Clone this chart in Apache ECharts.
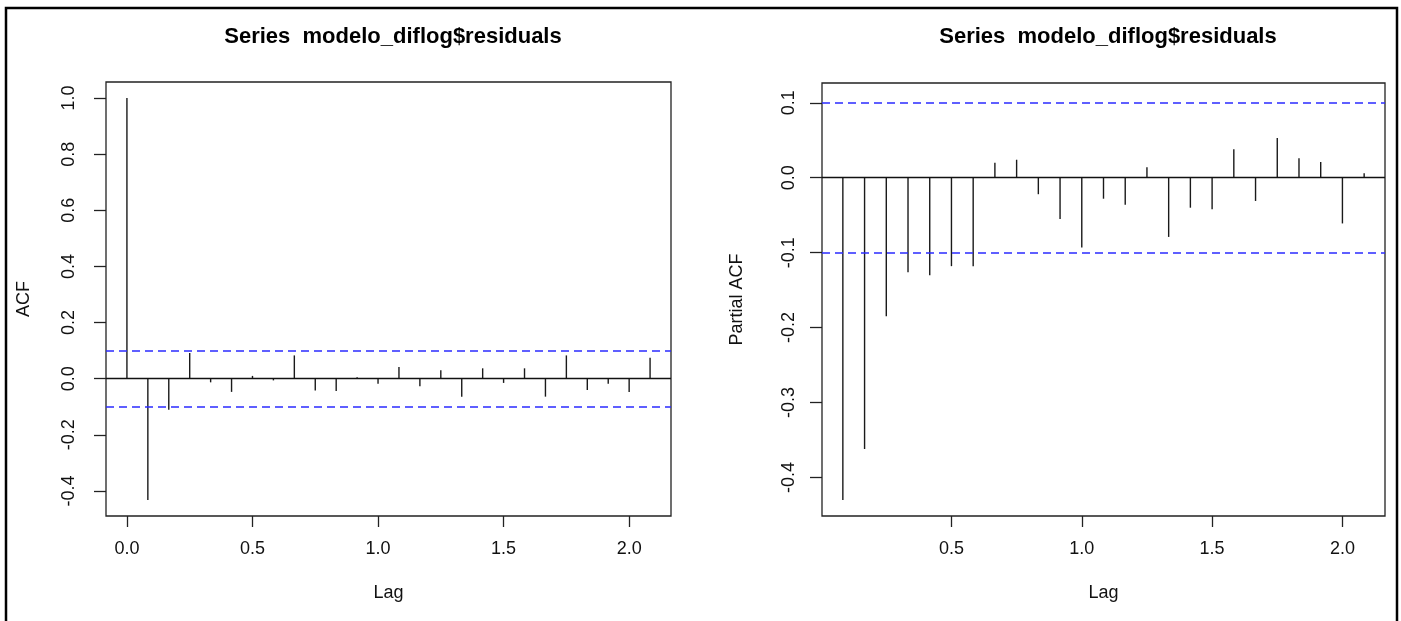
<!DOCTYPE html>
<html>
<head>
<meta charset="utf-8">
<script src="https://cdn.jsdelivr.net/npm/echarts@6/dist/echarts.min.js"></script>
<style>
  html, body { margin: 0; padding: 0; background: #fff; }
  #chart { width: 1401px; height: 621px; }
</style>
</head>
<body>
<div id="chart"></div>
<script>
const title = "Series  modelo_diflog$residuals";
const frequency = 12;
const ciLimit = 0.105;

// ACF, lags 0..25 (in units of 1/12)
const acfValues = [1.0, -0.432, -0.111, 0.092, -0.013, -0.047, 0.010, -0.006, 0.083, -0.042,
  -0.044, 0.005, -0.018, 0.042, -0.027, 0.030, -0.064, 0.037, -0.015, 0.037,
  -0.064, 0.083, -0.040, -0.018, -0.047, 0.075];

// PACF, lags 1..25
const pacfValues = [-0.430, -0.362, -0.185, -0.126, -0.130, -0.118, -0.118, 0.020, 0.024, -0.022,
  -0.055, -0.093, -0.028, -0.036, 0.014, -0.079, -0.040, -0.042, 0.038, -0.031,
  0.053, 0.026, 0.021, -0.061, 0.006];

const acfYTicks = [-0.4, -0.2, 0.0, 0.2, 0.4, 0.6, 0.8, 1.0];
const acfXTicks = [0.0, 0.5, 1.0, 1.5, 2.0];
const pacfYTicks = [-0.4, -0.3, -0.2, -0.1, 0.0, 0.1];
const pacfXTicks = [0.5, 1.0, 1.5, 2.0];

const acfData = acfValues.map((v, i) => [i / frequency, v]);
const pacfData = pacfValues.map((v, i) => [(i + 1) / frequency, v]);

// R-style 4% range padding
function padded(lo, hi) {
  const d = (hi - lo) * 0.04;
  return [lo - d, hi + d];
}
const acfX = padded(0, 25 / frequency);
const acfY = padded(Math.min(-ciLimit, ...acfValues), Math.max(ciLimit, ...acfValues));
const pacfX = padded(1 / frequency, 25 / frequency);
const pacfY = padded(Math.min(-ciLimit, ...pacfValues), Math.max(ciLimit, ...pacfValues));

const font = "'Liberation Sans', Arial, sans-serif";
const fmt = v => v.toFixed(1);

function xAxis(idx, range, ticks) {
  return {
    type: "value", gridIndex: idx, min: range[0], max: range[1],
    name: "Lag", nameLocation: "middle", nameGap: 68,
    nameTextStyle: { fontFamily: font, fontSize: 18, color: "#111" },
    axisLine: { show: false, onZero: false },
    splitLine: { show: false },
    axisTick: { show: true, inside: false, length: 11, customValues: ticks, lineStyle: { color: "#222", width: 1.3 } },
    axisLabel: { customValues: ticks, formatter: fmt, margin: 24, fontFamily: font, fontSize: 18, color: "#111" }
  };
}

function yAxis(idx, range, ticks, name, gap, margin) {
  return {
    type: "value", gridIndex: idx, min: range[0], max: range[1],
    name: name, nameLocation: "middle", nameGap: gap, nameRotate: 90,
    nameTextStyle: { fontFamily: font, fontSize: 18, color: "#111" },
    axisLine: { show: false, onZero: false },
    splitLine: { show: false },
    axisTick: { show: true, inside: false, length: 12, customValues: ticks, lineStyle: { color: "#222", width: 1.3 } },
    axisLabel: { customValues: ticks, formatter: fmt, rotate: 90, margin: margin, fontFamily: font, fontSize: 18, color: "#111" }
  };
}

function spikes(idx, data) {
  return {
    type: "custom", xAxisIndex: idx, yAxisIndex: idx, data: data, silent: true,
    renderItem: (params, api) => {
      const p0 = api.coord([api.value(0), 0]);
      const p1 = api.coord([api.value(0), api.value(1)]);
      return {
        type: "line",
        shape: { x1: p0[0], y1: p0[1], x2: p1[0], y2: p1[1] },
        style: { stroke: "#1a1a1a", lineWidth: 1.4 }
      };
    },
    markLine: {
      silent: true, symbol: "none", label: { show: false }, animation: false,
      data: [
        { yAxis: 0, lineStyle: { color: "#111", width: 1.4, type: "solid" } },
        { yAxis: ciLimit, lineStyle: { color: "#2b2bff", width: 1.5, type: [8, 5] } },
        { yAxis: -ciLimit, lineStyle: { color: "#2b2bff", width: 1.5, type: [8, 5] } }
      ]
    }
  };
}

const chart = echarts.init(document.getElementById("chart"));
chart.setOption({
  animation: false,
  backgroundColor: "#fff",
  title: [
    { text: title, left: 388, top: 21, textAlign: "center",
      textStyle: { fontFamily: font, fontSize: 22, fontWeight: "bold", color: "#000" } },
    { text: title, left: 1103, top: 21, textAlign: "center",
      textStyle: { fontFamily: font, fontSize: 22, fontWeight: "bold", color: "#000" } }
  ],
  grid: [
    { left: 106, top: 82, width: 565, height: 434, show: true, borderColor: "#222", borderWidth: 1.3, backgroundColor: "transparent" },
    { left: 822, top: 83, width: 563, height: 433, show: true, borderColor: "#222", borderWidth: 1.3, backgroundColor: "transparent" }
  ],
  xAxis: [xAxis(0, acfX, acfXTicks), xAxis(1, pacfX, pacfXTicks)],
  yAxis: [yAxis(0, acfY, acfYTicks, "ACF", 73, 28), yAxis(1, pacfY, pacfYTicks, "Partial ACF", 76, 24)],
  series: [spikes(0, acfData), spikes(1, pacfData)],
  graphic: [
    { type: "rect", shape: { x: 6, y: 8, width: 1391, height: 640 },
      style: { fill: "none", stroke: "#000", lineWidth: 2.5 }, silent: true }
  ]
});
</script>
</body>
</html>
